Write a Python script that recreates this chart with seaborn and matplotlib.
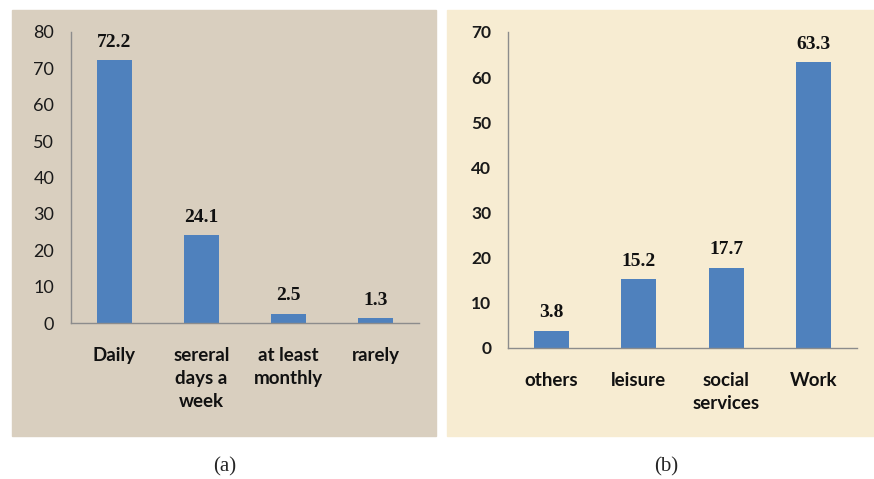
import numpy as np
import pandas as pd
import seaborn as sns
import matplotlib.pyplot as plt
from matplotlib.patches import Rectangle

# panel (a): how often
freq_labels = ["Daily", "sereral\ndays a\nweek", "at least\nmonthly", "rarely"]
freq_values = [72.2, 24.1, 2.5, 1.3]

# panel (b): purpose
use_labels = ["others", "leisure", "social\nservices", "Work"]
use_values = [3.8, 15.2, 17.7, 63.3]

bar_color = "#4f81bd"
W, H = 874, 479

sns.set_style("white")
plt.rcParams['font.family'] = ['Lato', 'DejaVu Sans']

fig = plt.figure(figsize=(W / 100, H / 100), dpi=100)
fig.patch.set_facecolor("white")

# panel backgrounds (behind the axes)
fig.patches.append(Rectangle((12 / W, 1 - 436 / H), 424 / W, 426 / H,
                             transform=fig.transFigure, color="#d9cfbf", zorder=-5))
fig.patches.append(Rectangle((447 / W, 1 - 436 / H), 427 / W, 426 / H,
                             transform=fig.transFigure, color="#f7ecd2", zorder=-5))


def px_axes(x0, x1, ytop, ybot):
    return fig.add_axes([x0 / W, 1 - ybot / H, (x1 - x0) / W, (ybot - ytop) / H])


def draw_panel(ax, labels, values, ymax, bold_ticks, ysize):
    df = pd.DataFrame({"cat": labels, "val": values})
    sns.barplot(data=df, x="cat", y="val", color=bar_color, width=0.4,
                saturation=1, linewidth=0, ax=ax)
    ax.set_facecolor("none")
    ax.set_ylim(0, ymax)
    ax.set_xlim(-0.5, len(labels) - 0.5)
    ax.set_yticks(np.arange(0, ymax + 1, 10))
    ax.set_xlabel("")
    ax.set_ylabel("")
    for s in ["top", "right"]:
        ax.spines[s].set_visible(False)
    for s in ["left", "bottom"]:
        ax.spines[s].set_color("#8c8c8c")
        ax.spines[s].set_linewidth(1)
    ax.tick_params(axis="y", direction="out", length=4, color="#8c8c8c",
                   labelsize=ysize, pad=8, labelcolor="#1a1a1a")
    ax.tick_params(axis="x", which="major", length=0, labelsize=13.5, pad=17,
                   labelcolor="#111111")
    ax.set_xticks(np.arange(-0.5, len(labels), 1), minor=True)
    ax.tick_params(axis="x", which="minor", direction="out", length=5,
                   color="#8c8c8c")
    for lab in ax.get_xticklabels():
        lab.set_fontweight("bold")
        lab.set_linespacing(1.45)
        lab.set_verticalalignment("top")
    for lab in ax.get_yticklabels():
        lab.set_fontweight("bold" if bold_ticks else "normal")
    for i, v in enumerate(values):
        ax.annotate(f"{v}", (i, v), xytext=(0, 7), textcoords="offset points",
                    ha="center", va="bottom", fontsize=14, fontweight="bold",
                    family="Liberation Serif", color="#111111")


ax_a = px_axes(71, 419, 32, 323)
draw_panel(ax_a, freq_labels, freq_values, 80, False, 13)

ax_b = px_axes(508, 857, 32, 348)
draw_panel(ax_b, use_labels, use_values, 70, True, 12.5)

fig.text(225 / W, 1 - 467 / H, "(a)", ha="center", va="center",
         fontsize=15, family="Liberation Serif")
fig.text(666 / W, 1 - 467 / H, "(b)", ha="center", va="center",
         fontsize=15, family="Liberation Serif")

fig.savefig("out.png", dpi=100)
